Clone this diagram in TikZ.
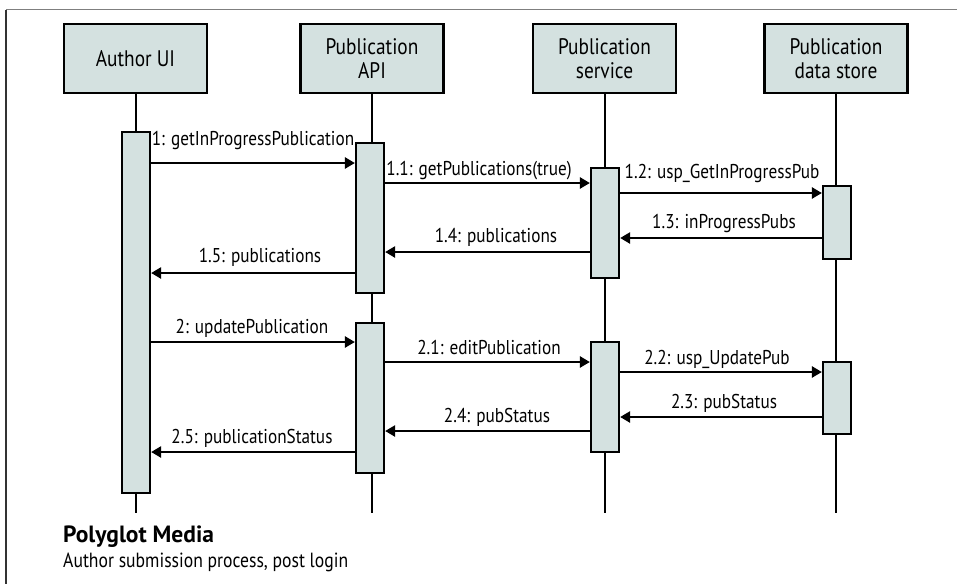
\documentclass[tikz,border=0pt]{standalone}
\usepackage{fontspec}
\setmainfont{PT Sans}[FakeStretch=0.86]
\newfontfamily\captionfont{PT Sans}
\usetikzlibrary{arrows.meta}
\definecolor{boxfill}{HTML}{D4E1E0}
\definecolor{framegray}{HTML}{7F7F7F}
\begin{document}
\begin{tikzpicture}[x=1pt,y=-1pt,
  header/.style={draw=black,line width=2.6pt,fill=boxfill,minimum width=143pt,
    minimum height=69pt,align=center,font=\fontsize{22.5}{24}\selectfont,inner sep=0pt},
  actbar/.style={draw=black,line width=2.2pt,fill=boxfill,minimum width=28pt,inner sep=0pt},
  lifeline/.style={line width=2pt},
  msg/.style={line width=2.4pt,-{Triangle[length=10pt,width=11pt]}},
  msglabel/.style={font=\fontsize{20}{22}\selectfont,inner sep=0pt}]
\useasboundingbox (0,0) rectangle (957,584);
% frame
\draw[framegray,line width=1.6pt] (6,9.5) -- (957,9.5);
\draw[black!80,line width=1.4pt] (6,9.5) -- (6,584);

% participants
\node[header] (h1) at (135.5,58.5) {Author UI};
\node[header] (h2) at (372,58.5) {Publication\\API};
\node[header] (h3) at (604.5,58.5) {Publication\\service};
\node[header] (h4) at (836,58.5) {Publication\\data store};

% lifelines
\foreach \i in {1,...,4}
  \draw[lifeline] (h\i.south) -- (h\i.south |- 0,513) coordinate (e\i);

% activation bars
\node[actbar,minimum height=361pt] (a1) at (136,312.5) {};
\node[actbar,minimum height=150pt] (b1) at (370,218) {};
\node[actbar,minimum height=150pt] (b2) at (370,398) {};
\node[actbar,minimum height=110pt] (c1) at (605,223) {};
\node[actbar,minimum height=110pt] (c2) at (605,397) {};
\node[actbar,minimum height=73pt] (d1) at (837,222.5) {};
\node[actbar,minimum height=72pt] (d2) at (837,398) {};

% messages, first exchange
\draw[msg] (a1.east |- 0,163) -- (b1.west |- 0,163);
\node[msglabel] (l1) at (253,140) {1: getInProgressPublication};
\draw[msg] (b1.east |- 0,183) -- (c1.west |- 0,183);
\node[msglabel] (l11) at (479,171) {1.1: getPublications(true)};
\draw[msg] (c1.east |- 0,193) -- (d1.west |- 0,193);
\node[msglabel] (l12) at (722,173) {1.2: usp\_GetInProgressPub};
\draw[msg] (d1.west |- 0,238) -- (c1.east |- 0,238);
\node[msglabel] (l13) at (724,223) {1.3: inProgressPubs};
\draw[msg] (c1.west |- 0,252) -- (b1.east |- 0,252);
\node[msglabel] (l14) at (496,237) {1.4: publications};
\draw[msg] (b1.west |- 0,273) -- (a1.east |- 0,273);
\node[msglabel] (l15) at (260,257) {1.5: publications};

% messages, second exchange
\draw[msg] (a1.east |- 0,342) -- (b2.west |- 0,342);
\node[msglabel] (l2) at (252,328) {2: updatePublication};
\draw[msg] (b2.east |- 0,362) -- (c2.west |- 0,362);
\node[msglabel] (l21) at (489,347) {2.1: editPublication};
\draw[msg] (c2.east |- 0,372) -- (d2.west |- 0,372);
\node[msglabel] (l22) at (717,359) {2.2: usp\_UpdatePub};
\draw[msg] (d2.west |- 0,417) -- (c2.east |- 0,417);
\node[msglabel] (l23) at (724,403) {2.3: pubStatus};
\draw[msg] (c2.west |- 0,431) -- (b2.east |- 0,431);
\node[msglabel] (l24) at (497,417) {2.4: pubStatus};
\draw[msg] (b2.west |- 0,452) -- (a1.east |- 0,452);
\node[msglabel] (l25) at (252,438) {2.5: publicationStatus};

% caption
\node[anchor=west,inner sep=0pt,font=\captionfont\bfseries\fontsize{23.5}{26}\selectfont] (title) at (63,537) {Polyglot Media};
\node[anchor=west,inner sep=0pt,font=\fontsize{20.5}{22}\selectfont] (subtitle) at (63,562) {Author submission process, post login};
\end{tikzpicture}
\end{document}
